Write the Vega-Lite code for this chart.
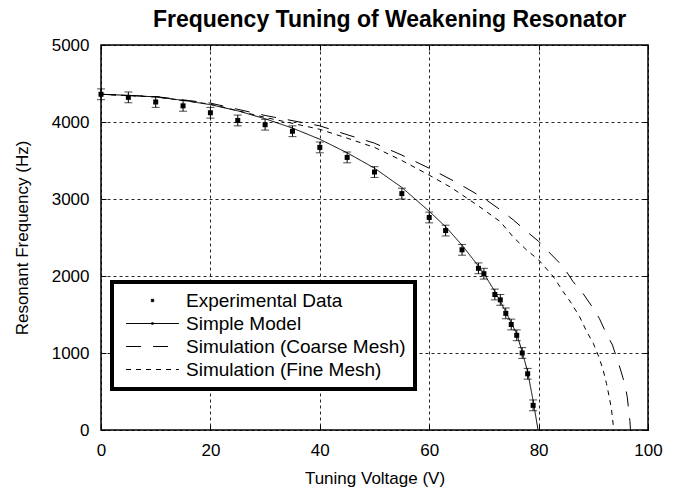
{
  "$schema": "https://vega.github.io/schema/vega-lite/v6.json",
  "width": 547,
  "height": 385,
  "autosize": {"type": "none"},
  "padding": {"left": 101, "top": 45, "right": 30, "bottom": 62},
  "background": "white",
  "title": {"text": "Frequency Tuning of Weakening Resonator", "fontSize": 23, "fontWeight": "bold", "font": "Liberation Sans", "color": "black", "offset": 4, "dx": 15},
  "datasets": {
    "pts": [
      {"V": 0, "F": 4360, "lo": 4290, "hi": 4430},
      {"V": 5, "F": 4320, "lo": 4250, "hi": 4390},
      {"V": 10, "F": 4260, "lo": 4190, "hi": 4330},
      {"V": 15, "F": 4210, "lo": 4140, "hi": 4280},
      {"V": 20, "F": 4120, "lo": 4050, "hi": 4190},
      {"V": 25, "F": 4020, "lo": 3950, "hi": 4090},
      {"V": 30, "F": 3965, "lo": 3895, "hi": 4035},
      {"V": 35, "F": 3880, "lo": 3810, "hi": 3950},
      {"V": 40, "F": 3670, "lo": 3600, "hi": 3740},
      {"V": 45, "F": 3540, "lo": 3470, "hi": 3610},
      {"V": 50, "F": 3350, "lo": 3280, "hi": 3420},
      {"V": 55, "F": 3070, "lo": 3000, "hi": 3140},
      {"V": 60, "F": 2760, "lo": 2690, "hi": 2830},
      {"V": 63, "F": 2590, "lo": 2520, "hi": 2660},
      {"V": 66, "F": 2340, "lo": 2270, "hi": 2410},
      {"V": 69, "F": 2100, "lo": 2030, "hi": 2170},
      {"V": 70, "F": 2030, "lo": 1960, "hi": 2100},
      {"V": 72, "F": 1760, "lo": 1690, "hi": 1830},
      {"V": 73, "F": 1690, "lo": 1620, "hi": 1760},
      {"V": 74, "F": 1515, "lo": 1445, "hi": 1585},
      {"V": 75, "F": 1370, "lo": 1300, "hi": 1440},
      {"V": 76, "F": 1230, "lo": 1160, "hi": 1300},
      {"V": 77, "F": 1000, "lo": 930, "hi": 1070},
      {"V": 78, "F": 730, "lo": 660, "hi": 800},
      {"V": 79, "F": 320, "lo": 250, "hi": 390}
    ],
    "curves": [
      {"series": "Simple Model", "V": 0, "F": 4360},
      {"series": "Simple Model", "V": 5, "F": 4346},
      {"series": "Simple Model", "V": 10, "F": 4326},
      {"series": "Simple Model", "V": 15, "F": 4282},
      {"series": "Simple Model", "V": 20, "F": 4225},
      {"series": "Simple Model", "V": 25, "F": 4145},
      {"series": "Simple Model", "V": 30, "F": 4042},
      {"series": "Simple Model", "V": 35, "F": 3921},
      {"series": "Simple Model", "V": 40, "F": 3776},
      {"series": "Simple Model", "V": 45, "F": 3600},
      {"series": "Simple Model", "V": 50, "F": 3400},
      {"series": "Simple Model", "V": 55, "F": 3150},
      {"series": "Simple Model", "V": 60, "F": 2840},
      {"series": "Simple Model", "V": 63, "F": 2640},
      {"series": "Simple Model", "V": 66, "F": 2400},
      {"series": "Simple Model", "V": 69, "F": 2130},
      {"series": "Simple Model", "V": 70, "F": 2030},
      {"series": "Simple Model", "V": 72, "F": 1800},
      {"series": "Simple Model", "V": 74, "F": 1535},
      {"series": "Simple Model", "V": 76, "F": 1250},
      {"series": "Simple Model", "V": 77, "F": 1015},
      {"series": "Simple Model", "V": 78, "F": 755},
      {"series": "Simple Model", "V": 79, "F": 380},
      {"series": "Simple Model", "V": 79.9, "F": 0},
      {"series": "Simulation (Coarse Mesh)", "V": 0, "F": 4360},
      {"series": "Simulation (Coarse Mesh)", "V": 10, "F": 4330},
      {"series": "Simulation (Coarse Mesh)", "V": 20, "F": 4245},
      {"series": "Simulation (Coarse Mesh)", "V": 30, "F": 4085},
      {"series": "Simulation (Coarse Mesh)", "V": 40, "F": 3950},
      {"series": "Simulation (Coarse Mesh)", "V": 45, "F": 3835},
      {"series": "Simulation (Coarse Mesh)", "V": 50, "F": 3725},
      {"series": "Simulation (Coarse Mesh)", "V": 55, "F": 3570},
      {"series": "Simulation (Coarse Mesh)", "V": 60, "F": 3400},
      {"series": "Simulation (Coarse Mesh)", "V": 65, "F": 3215},
      {"series": "Simulation (Coarse Mesh)", "V": 70, "F": 3010},
      {"series": "Simulation (Coarse Mesh)", "V": 73, "F": 2860},
      {"series": "Simulation (Coarse Mesh)", "V": 75.4, "F": 2727},
      {"series": "Simulation (Coarse Mesh)", "V": 77.5, "F": 2597},
      {"series": "Simulation (Coarse Mesh)", "V": 80, "F": 2450},
      {"series": "Simulation (Coarse Mesh)", "V": 82.4, "F": 2273},
      {"series": "Simulation (Coarse Mesh)", "V": 84.5, "F": 2121},
      {"series": "Simulation (Coarse Mesh)", "V": 86.3, "F": 1926},
      {"series": "Simulation (Coarse Mesh)", "V": 88.1, "F": 1775},
      {"series": "Simulation (Coarse Mesh)", "V": 89.7, "F": 1610},
      {"series": "Simulation (Coarse Mesh)", "V": 91.1, "F": 1450},
      {"series": "Simulation (Coarse Mesh)", "V": 92.3, "F": 1264},
      {"series": "Simulation (Coarse Mesh)", "V": 93.5, "F": 1104},
      {"series": "Simulation (Coarse Mesh)", "V": 94.2, "F": 952},
      {"series": "Simulation (Coarse Mesh)", "V": 95, "F": 779},
      {"series": "Simulation (Coarse Mesh)", "V": 95.8, "F": 584},
      {"series": "Simulation (Coarse Mesh)", "V": 96.2, "F": 433},
      {"series": "Simulation (Coarse Mesh)", "V": 96.7, "F": 108},
      {"series": "Simulation (Coarse Mesh)", "V": 96.8, "F": 0},
      {"series": "Simulation (Fine Mesh)", "V": 0, "F": 4360},
      {"series": "Simulation (Fine Mesh)", "V": 10, "F": 4325},
      {"series": "Simulation (Fine Mesh)", "V": 20, "F": 4232},
      {"series": "Simulation (Fine Mesh)", "V": 30, "F": 4060},
      {"series": "Simulation (Fine Mesh)", "V": 40, "F": 3905},
      {"series": "Simulation (Fine Mesh)", "V": 45, "F": 3790},
      {"series": "Simulation (Fine Mesh)", "V": 50, "F": 3670},
      {"series": "Simulation (Fine Mesh)", "V": 55, "F": 3500},
      {"series": "Simulation (Fine Mesh)", "V": 60, "F": 3310},
      {"series": "Simulation (Fine Mesh)", "V": 64, "F": 3150},
      {"series": "Simulation (Fine Mesh)", "V": 69, "F": 2910},
      {"series": "Simulation (Fine Mesh)", "V": 73, "F": 2705},
      {"series": "Simulation (Fine Mesh)", "V": 75.4, "F": 2503},
      {"series": "Simulation (Fine Mesh)", "V": 77.8, "F": 2338},
      {"series": "Simulation (Fine Mesh)", "V": 80, "F": 2210},
      {"series": "Simulation (Fine Mesh)", "V": 82.7, "F": 1991},
      {"series": "Simulation (Fine Mesh)", "V": 84.5, "F": 1796},
      {"series": "Simulation (Fine Mesh)", "V": 86, "F": 1645},
      {"series": "Simulation (Fine Mesh)", "V": 87.5, "F": 1471},
      {"series": "Simulation (Fine Mesh)", "V": 88.8, "F": 1277},
      {"series": "Simulation (Fine Mesh)", "V": 90, "F": 1126},
      {"series": "Simulation (Fine Mesh)", "V": 91, "F": 952},
      {"series": "Simulation (Fine Mesh)", "V": 91.8, "F": 779},
      {"series": "Simulation (Fine Mesh)", "V": 92.4, "F": 606},
      {"series": "Simulation (Fine Mesh)", "V": 92.9, "F": 433},
      {"series": "Simulation (Fine Mesh)", "V": 93.3, "F": 282},
      {"series": "Simulation (Fine Mesh)", "V": 93.75, "F": 0}
    ]
  },
  "resolve": {"axis": {"x": "independent", "y": "independent"}},
  "layer": [
    {
      "data": {"name": "curves"},
      "mark": {"type": "line", "color": "black", "strokeWidth": 1, "clip": true},
      "encoding": {
        "x": {"field": "V", "type": "quantitative", "scale": {"domain": [0, 100], "nice": false, "zero": false}, "axis": {"title": "Tuning Voltage (V)", "values": [0, 20, 40, 60, 80, 100], "titlePadding": 12, "labelFlush": false}},
        "y": {"field": "F", "type": "quantitative", "scale": {"domain": [0, 5000], "nice": false}, "axis": {"title": "Resonant Frequency (Hz)", "values": [0, 1000, 2000, 3000, 4000, 5000], "format": "d", "titlePadding": 20}},
        "order": {"field": "V", "type": "quantitative"},
        "strokeDash": {
          "field": "series", "type": "nominal",
          "scale": {"domain": ["Experimental Data", "Simple Model", "Simulation (Coarse Mesh)", "Simulation (Fine Mesh)"], "range": [[1, 0], [1, 0], [15, 12], [5, 5]]},
          "legend": {
            "title": null, "orient": "none", "legendX": 11, "legendY": 237,
            "padding": 9, "fillColor": "white", "strokeColor": "black",
            "labelFont": "Liberation Sans", "labelFontSize": 19, "labelColor": "black", "labelOffset": 24, "labelLimit": 400,
            "symbolSize": 112, "symbolOffset": 22, "symbolStrokeWidth": 1, "symbolStrokeColor": "black", "rowPadding": 3,
            "encode": {
              "legend": {"update": {"strokeWidth": {"value": 4}}},
              "symbols": {"update": {
                "shape": {"signal": "datum.value == 'Experimental Data' ? 'M-0.22,-0.22H0.22V0.22H-0.22Z' : datum.value == 'Simple Model' ? 'M-5,0H5M-0.15,-0.15H0.15V0.15H-0.15Z' : 'M-5,0H5'"},
                "size": {"value": 112},
                "fill": {"signal": "datum.value == 'Experimental Data' || datum.value == 'Simple Model' ? 'black' : 'transparent'"},
                "stroke": {"value": "black"},
                "strokeWidth": {"value": 1},
                "opacity": {"value": 1}
              }}
            }
          }
        }
      }
    },
    {
      "data": {"name": "pts"},
      "mark": {"type": "errorbar", "color": "black", "thickness": 1, "ticks": {"size": 8, "color": "black", "thickness": 1}},
      "encoding": {
        "x": {"field": "V", "type": "quantitative", "axis": null},
        "y": {"field": "lo", "type": "quantitative", "axis": null},
        "y2": {"field": "hi"}
      }
    },
    {
      "data": {"name": "pts"},
      "mark": {"type": "point", "shape": "square", "filled": true, "color": "black", "size": 25, "opacity": 1},
      "encoding": {
        "x": {"field": "V", "type": "quantitative", "axis": {"orient": "top", "values": [0, 20, 40, 60, 80, 100], "labels": false, "grid": false, "title": null}},
        "y": {"field": "F", "type": "quantitative", "axis": {"orient": "right", "values": [0, 1000, 2000, 3000, 4000, 5000], "labels": false, "grid": false, "title": null}}
      }
    }
  ],
  "config": {
    "font": "Liberation Sans",
    "view": {"stroke": "black", "strokeWidth": 1.5},
    "axis": {
      "labelFont": "Liberation Sans", "labelFontSize": 17, "labelColor": "black",
      "titleFont": "Liberation Sans", "titleFontSize": 17, "titleFontWeight": "normal", "titleColor": "black",
      "grid": true, "gridColor": "black", "gridDash": [3, 3], "gridWidth": 1, "gridOpacity": 0.85,
      "ticks": true, "tickSize": -5, "tickColor": "black", "tickWidth": 1, "domain": false, "labelPadding": 17
    }
  }
}
